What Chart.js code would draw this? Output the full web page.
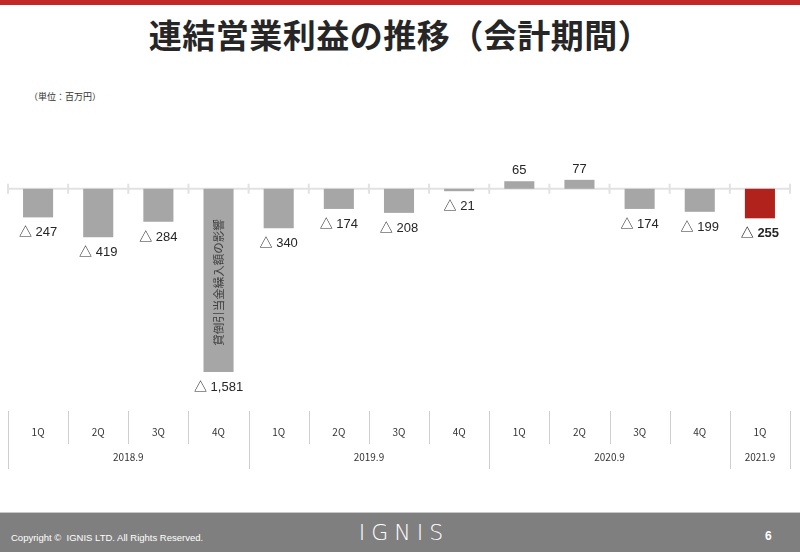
<!DOCTYPE html>
<html>
<head>
<meta charset="utf-8">
<script src="https://cdn.jsdelivr.net/npm/chart.js@4.4.0/dist/chart.umd.min.js"></script>
<style>
  body { margin:0; width:800px; height:552px; background:#fff; position:relative; overflow:hidden; font-family:"Noto Sans CJK JP", sans-serif; }
  #topbar { position:absolute; left:0; top:0; width:800px; height:5px; background:#c0282a; }
  #title { position:absolute; left:5px; top:10px; width:790px; text-align:center; font-size:33px; font-weight:bold; color:#262626; letter-spacing:0.5px; }
  #unit { position:absolute; left:29px; top:90px; font-size:9px; color:#333; }
  #footer { position:absolute; left:0; top:512px; width:800px; height:40px; background:#7f7f7f; border-top:1px solid #c8c8c8; }
  #copy { position:absolute; left:11px; top:19px; font-family:"Liberation Sans", sans-serif; font-size:9.5px; color:#fff; }
  #logo { position:absolute; left:0; width:800px; top:7px; text-align:center; font-family:"DejaVu Sans", sans-serif; font-size:22px; font-weight:200; letter-spacing:6px; color:#fff; padding-left:4px; }
  #page { position:absolute; left:765px; top:16px; font-family:"Liberation Sans", sans-serif; font-size:12px; font-weight:bold; color:#fff; }
  #wrap { position:absolute; left:0; top:0; width:800px; height:552px; }
</style>
</head>
<body>
<div id="topbar"></div>
<div id="title">連結営業利益の推移（会計期間）</div>
<div id="unit">（単位：百万円）</div>
<div id="wrap"><canvas id="chart1"></canvas></div>
<div id="footer">
  <div id="copy">Copyright ©&nbsp; IGNIS LTD. All Rights Reserved.</div>
  <div id="logo">IGNIS</div>
  <div id="page">6</div>
</div>
<script>
// 四半期・年度
var quarters = ['1Q', '2Q', '3Q', '4Q', '1Q', '2Q', '3Q', '4Q', '1Q', '2Q', '3Q', '4Q', '1Q']
var years = ['2018.9', '2019.9', '2020.9', '2021.9']
var yearSpans = [4, 4, 4, 1]
// 営業利益（百万円）
var profit = [-247, -419, -284, -1581, -340, -174, -208, -21, 65, 77, -174, -199, -255]
var note = '貸倒引当金繰入額の影響'
var noteIndex = 3

var barColors = profit.map(function (v, i) { return i === profit.length - 1 ? '#b2221d' : '#a6a6a6' })

var axisPlugin = {
  id: 'axisTable',
  beforeDatasetsDraw: function (chart) {
    var ctx = chart.ctx, x = chart.scales.x, y = chart.scales.y
    var y0 = y.getPixelForValue(0)
    var half = (x.getPixelForValue(1) - x.getPixelForValue(0)) / 2
    ctx.save()
    ctx.strokeStyle = '#e2e2e2'
    ctx.lineWidth = 2
    ctx.beginPath()
    ctx.moveTo(x.getPixelForValue(0) - half, y0)
    ctx.lineTo(x.getPixelForValue(quarters.length - 1) + half, y0)
    for (var i = 0; i <= quarters.length; i++) {
      var bx = x.getPixelForValue(i) - half
      ctx.moveTo(bx, y0 - 5)
      ctx.lineTo(bx, y0 + 5)
    }
    ctx.stroke()
    ctx.restore()
  },
  afterDraw: function (chart) {
    var ctx = chart.ctx, x = chart.scales.x
    var half = (x.getPixelForValue(1) - x.getPixelForValue(0)) / 2
    ctx.save()
    ctx.strokeStyle = '#cfcfcf'
    ctx.lineWidth = 1
    var yearStarts = [0]
    yearSpans.forEach(function (s, k) { yearStarts.push(yearStarts[k] + s) })
    for (var i = 0; i <= quarters.length; i++) {
      var bx = Math.round(x.getPixelForValue(i) - half) + 0.5
      var full = yearStarts.indexOf(i) >= 0
      ctx.beginPath()
      ctx.moveTo(bx, 411)
      ctx.lineTo(bx, full ? 469 : 444)
      ctx.stroke()
    }
    ctx.fillStyle = '#333'
    ctx.font = '10px "Noto Sans CJK JP", sans-serif'
    ctx.textAlign = 'center'
    ctx.textBaseline = 'middle'
    quarters.forEach(function (q, i) { ctx.fillText(q, x.getPixelForValue(i), 432) })
    years.forEach(function (yr, k) {
      var a = x.getPixelForValue(yearStarts[k]) - half
      var b = x.getPixelForValue(yearStarts[k + 1] - 1) + half
      ctx.fillText(yr, (a + b) / 2, 457)
    })
    ctx.restore()
  },
  afterDatasetsDraw: function (chart) {
    var ctx = chart.ctx
    var meta = chart.getDatasetMeta(0)
    ctx.save()
    ctx.textAlign = 'center'
    meta.data.forEach(function (bar, i) {
      var v = profit[i]
      var last = i === profit.length - 1
      ctx.fillStyle = '#262626'
      ctx.font = (last ? 'bold ' : '') + '13px "Liberation Sans", "Noto Sans CJK JP", sans-serif'
      if (v < 0) {
        ctx.textBaseline = 'top'
        var txt = '△ ' + Math.abs(v).toLocaleString('en-US')
        ctx.fillText(txt, bar.x, bar.y + 9)
      } else {
        ctx.textBaseline = 'bottom'
        ctx.fillText(String(v), bar.x, bar.y - 4)
      }
    })
    // 注記（縦書き）
    var nb = meta.data[noteIndex]
    var zy = chart.scales.y.getPixelForValue(0)
    ctx.translate(nb.x, (zy + nb.y) / 2 + 2)
    ctx.rotate(-Math.PI / 2)
    ctx.font = '11.5px "Noto Sans CJK JP", sans-serif'
    ctx.fillStyle = '#404040'
    ctx.textBaseline = 'middle'
    ctx.fillText(note, 0, 0)
    ctx.restore()
  }
}

var barChartCanvas = document.getElementById('chart1').getContext('2d')
new Chart(barChartCanvas, {
  type: 'bar',
  data: {
    labels: quarters,
    datasets: [{
      data: profit,
      backgroundColor: barColors,
      borderWidth: 0,
      barPercentage: 0.5,
      categoryPercentage: 1.0
    }]
  },
  options: {
    responsive: true,
    maintainAspectRatio: false,
    animation: false,
    layout: { padding: { top: 154, bottom: 172, left: 8, right: 10 } },
    plugins: { legend: { display: false }, tooltip: { enabled: false } },
    scales: {
      x: { display: false },
      y: { display: false, min: -1650, max: 300 }
    }
  },
  plugins: [axisPlugin]
})
</script>
</body>
</html>
